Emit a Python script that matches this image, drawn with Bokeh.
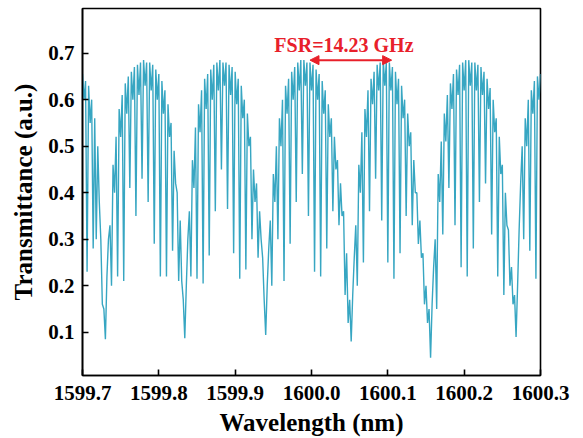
import numpy as np
from bokeh.plotting import figure
from bokeh.models import Range1d, FixedTicker, PrintfTickFormatter, Arrow, NormalHead, Label
from bokeh.embed import file_html
from bokeh.resources import INLINE

# ---- data ----
wl_start = 1599.700   # nm, first sample
wl_step = 0.002       # nm, sampling step of the spectrum

transmittance = [
    0.655, 0.60, 0.64, 0.23, 0.63, 0.55, 0.60, 0.28, 0.56, 0.30,
    0.50, 0.38, 0.30, 0.16, 0.15, 0.085, 0.22, 0.30, 0.33, 0.20,
    0.46, 0.40, 0.52, 0.22, 0.58, 0.52, 0.61, 0.21, 0.635, 0.57,
    0.65, 0.41, 0.66, 0.60, 0.67, 0.35, 0.675, 0.61, 0.68, 0.43,
    0.685, 0.63, 0.68, 0.38, 0.68, 0.62, 0.675, 0.29, 0.665, 0.60,
    0.655, 0.22, 0.64, 0.57, 0.62, 0.22, 0.59, 0.52, 0.55, 0.275,
    0.49, 0.42, 0.40, 0.21, 0.34, 0.21, 0.17, 0.087, 0.20, 0.30,
    0.36, 0.22, 0.47, 0.41, 0.54, 0.215, 0.59, 0.53, 0.62, 0.205,
    0.645, 0.58, 0.655, 0.265, 0.665, 0.60, 0.675, 0.36, 0.68, 0.62,
    0.685, 0.45, 0.68, 0.63, 0.68, 0.365, 0.675, 0.61, 0.67, 0.27,
    0.66, 0.59, 0.645, 0.215, 0.63, 0.56, 0.60, 0.235, 0.57, 0.50,
    0.52, 0.30, 0.45, 0.38, 0.42, 0.26, 0.36, 0.30, 0.26, 0.17,
    0.094, 0.20, 0.28, 0.34, 0.20, 0.44, 0.38, 0.50, 0.30, 0.56,
    0.50, 0.60, 0.21, 0.63, 0.57, 0.645, 0.29, 0.66, 0.60, 0.67,
    0.38, 0.68, 0.62, 0.685, 0.44, 0.685, 0.63, 0.68, 0.35, 0.68,
    0.62, 0.675, 0.23, 0.665, 0.60, 0.655, 0.22, 0.64, 0.57, 0.62,
    0.28, 0.59, 0.52, 0.56, 0.36, 0.52, 0.45, 0.47, 0.33, 0.42,
    0.35, 0.36, 0.18, 0.27, 0.12, 0.17, 0.08, 0.18, 0.26, 0.33,
    0.20, 0.46, 0.40, 0.53, 0.25, 0.58, 0.52, 0.62, 0.36, 0.645,
    0.59, 0.66, 0.43, 0.675, 0.62, 0.68, 0.34, 0.685, 0.63, 0.68,
    0.25, 0.68, 0.62, 0.67, 0.215, 0.66, 0.59, 0.645, 0.27, 0.63,
    0.56, 0.60, 0.35, 0.57, 0.50, 0.53, 0.33, 0.47, 0.40, 0.40,
    0.29, 0.34, 0.26, 0.27, 0.16, 0.20, 0.12, 0.15, 0.045, 0.16,
    0.24, 0.30, 0.15, 0.44, 0.38, 0.51, 0.31, 0.57, 0.51, 0.61,
    0.41, 0.635, 0.58, 0.655, 0.33, 0.665, 0.61, 0.675, 0.24, 0.68,
    0.62, 0.685, 0.22, 0.685, 0.63, 0.68, 0.28, 0.68, 0.62, 0.675,
    0.38, 0.67, 0.61, 0.66, 0.42, 0.645, 0.58, 0.625, 0.31, 0.60,
    0.53, 0.56, 0.22, 0.52, 0.44, 0.46, 0.18, 0.40, 0.33, 0.32,
    0.20, 0.24, 0.16, 0.18, 0.09, 0.20, 0.32, 0.42, 0.50, 0.30,
    0.56, 0.50, 0.60, 0.275, 0.62, 0.57, 0.64, 0.215, 0.65, 0.60, 0.655,
]
wavelength = wl_start + wl_step * np.arange(len(transmittance))

x_ticks = [1599.7, 1599.8, 1599.9, 1600.0, 1600.1, 1600.2, 1600.3]
y_ticks = [0.1, 0.2, 0.3, 0.4, 0.5, 0.6, 0.7]

fsr_label = "FSR=14.23 GHz"
fsr_start = 1599.998
fsr_end = 1600.105
fsr_level = 0.685

# ---- figure ----
FONT = "Liberation Serif"
p = figure(width=583, height=438, output_backend="svg", toolbar_location=None,
           x_range=Range1d(1599.7, 1600.3), y_range=Range1d(0.007, 0.796),
           min_border_left=82, min_border_right=43, min_border_top=8,
           min_border_bottom=61)
p.grid.visible = False
p.background_fill_color = "white"
p.border_fill_color = "white"
p.outline_line_color = "black"
p.outline_line_width = 1.6
p.outline_line_alpha = 1.0

p.line(wavelength, transmittance, line_color="#37A6C2", line_width=1.4)

for ax in (p.xaxis[0], p.yaxis[0]):
    ax.axis_line_width = 1.6
    ax.axis_line_color = "black"
    ax.major_tick_in = 6
    ax.major_tick_out = 0
    ax.major_tick_line_width = 1.6
    ax.minor_tick_line_color = None
    ax.major_label_text_font = FONT
    ax.major_label_text_font_style = "bold"
    ax.major_label_text_color = "black"
    ax.axis_label_text_font = FONT
    ax.axis_label_text_font_style = "bold"
    ax.axis_label_text_font_size = "25px"
    ax.axis_label_text_color = "black"

p.xaxis.major_label_text_font_size = "21px"
p.yaxis.major_label_text_font_size = "21px"
p.xaxis.major_label_standoff = 10
p.yaxis.major_label_standoff = 8
p.xaxis.axis_label_standoff = 6
p.yaxis.axis_label_standoff = 8

p.xaxis.ticker = FixedTicker(ticks=x_ticks)
p.yaxis.ticker = FixedTicker(ticks=y_ticks)
p.xaxis.formatter = PrintfTickFormatter(format="%.1f")
p.yaxis.formatter = PrintfTickFormatter(format="%.1f")
p.xaxis.axis_label = "Wavelength (nm)"
p.yaxis.axis_label = "Transmittance (a.u.)"

red = "#E8202A"
p.add_layout(Arrow(x_start=fsr_start, y_start=fsr_level, x_end=fsr_end, y_end=fsr_level,
                   line_color=red, line_width=2,
                   start=NormalHead(size=9, fill_color=red, line_color=red),
                   end=NormalHead(size=9, fill_color=red, line_color=red)))
p.add_layout(Label(x=(fsr_start + fsr_end) / 2 - 0.009, y=0.717, text=fsr_label,
                   text_align="center", text_baseline="middle",
                   text_font=FONT, text_font_style="bold", text_font_size="20px",
                   text_color=red))

open("out.html", "w").write(file_html(p, INLINE))
